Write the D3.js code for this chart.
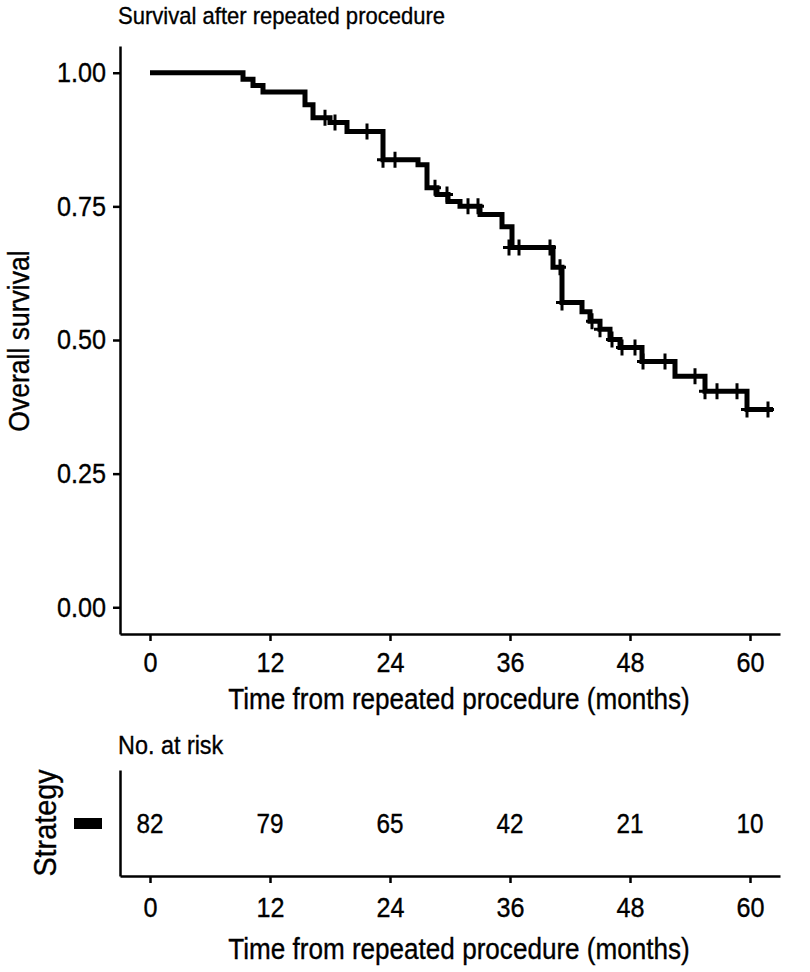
<!DOCTYPE html>
<html>
<head>
<meta charset="utf-8">
<script src="https://cdn.jsdelivr.net/npm/d3@7"></script>
<style>
  body { margin: 0; background: #fff; }
  text { font-family: "Liberation Sans", Arial, sans-serif; fill: #000; stroke: #000; stroke-width: 0.35px; }
  .axis path, .axis line { stroke: #000; stroke-width: 2.5px; }
  .axis text { font-size: 28px; fill: #000; }
</style>
</head>
<body>
<div id="chart-area"></div>
<script>
  // Kaplan-Meier steps
  var eventTimes = [0, 9.3, 10.3, 11.3, 15.5, 16.3, 18.0, 19.7, 23.3, 26.8, 27.7, 28.7, 29.8, 31.0, 33.0,
                    35.2, 36.2, 40.3, 41.2, 43.2, 44.0, 45.0, 46.0, 47.0, 49.2, 52.5, 55.5, 59.7, 62.3];
  var eventSurv  = [1.0, 0.988, 0.976, 0.964, 0.940, 0.916, 0.907, 0.890, 0.837, 0.828, 0.785, 0.772, 0.759, 0.750, 0.735,
                    0.712, 0.673, 0.636, 0.570, 0.553, 0.535, 0.520, 0.501, 0.486, 0.460, 0.432, 0.404, 0.370, 0.370];
  // censored observations
  var censorTimes = [17.5, 18.5, 21.7, 23.3, 24.5, 28.5, 29.7, 31.8, 32.8, 35.9, 36.9, 40.0, 41.0, 41.2,
                     44.2, 45.0, 46.2, 47.2, 48.5, 49.3, 51.5, 54.5, 55.5, 56.7, 58.7, 59.7, 61.8];
  var censorSurv  = [0.916, 0.907, 0.890, 0.837, 0.837, 0.785, 0.772, 0.750, 0.750, 0.673, 0.673, 0.673, 0.636, 0.570,
                     0.535, 0.520, 0.501, 0.486, 0.486, 0.460, 0.460, 0.432, 0.404, 0.404, 0.404, 0.370, 0.370];
  // number at risk table
  var riskTimes = [0, 12, 24, 36, 48, 60];
  var riskCounts = [82, 79, 65, 42, 21, 10];
  var xTicks = [0, 12, 24, 36, 48, 60];
  var yTicks = [0, 0.25, 0.5, 0.75, 1.0];

  // the text in the picture is a bit narrow, squeeze it horizontally
  var SQ = 0.9;

  var svg = d3.select('#chart-area')
    .append('svg')
    .attr('width', 810)
    .attr('height', 972);

  function label(tx, ty, rot, size, anchor, str) {
    return svg.append('text')
      .attr('transform', 'translate(' + tx + ',' + ty + ') rotate(' + rot + ') scale(' + SQ + ',1)')
      .attr('font-size', size + 'px')
      .attr('text-anchor', anchor)
      .text(str);
  }

  // Scales
  var x = d3.scaleLinear().domain([-3, 63]).range([120, 780]);
  var y = d3.scaleLinear().domain([-0.05, 1.05]).range([634, 46]);

  // Title
  label(118, 24, 0, 24.5, 'start', 'Survival after repeated procedure');

  // Axes
  svg.append('g')
    .attr('class', 'axis')
    .attr('transform', 'translate(0,634)')
    .call(d3.axisBottom(x).tickValues(xTicks).tickSize(7).tickPadding(11).tickSizeOuter(0))
    .call(function(g) { g.selectAll('text').attr('dy', '0.71em').attr('transform', 'scale(' + SQ + ',1)'); });
  svg.append('g')
    .attr('class', 'axis')
    .attr('transform', 'translate(120,0)')
    .call(d3.axisLeft(y).tickValues(yTicks).tickSize(7).tickPadding(6).tickSizeOuter(0)
      .tickFormat(d3.format('.2f')))
    .call(function(g) {
      g.selectAll('text').attr('x', -14 / SQ).attr('transform', 'scale(' + SQ + ',1)');
    });

  label(459, 709, 0, 29, 'middle', 'Time from repeated procedure (months)');
  label(29, 341, -90, 29.5, 'middle', 'Overall survival');

  // Survival curve
  var km = eventTimes.map(function(t, i) { return {t: t, s: eventSurv[i]}; });
  var line = d3.line()
    .curve(d3.curveStepAfter)
    .x(function(d) { return x(d.t); })
    .y(function(d) { return y(d.s); });
  svg.append('path')
    .attr('fill', 'none')
    .attr('stroke', '#000')
    .attr('stroke-width', 5)
    .attr('d', line(km));

  // Censor marks
  var cens = censorTimes.map(function(t, i) { return {t: t, s: censorSurv[i]}; });
  svg.append('g').selectAll('path')
    .data(cens)
    .enter().append('path')
    .attr('stroke', '#000')
    .attr('stroke-width', 3)
    .attr('d', function(d) {
      var cx = x(d.t), cy = y(d.s);
      return 'M' + (cx - 6) + ',' + cy + 'H' + (cx + 6) + 'M' + cx + ',' + (cy - 8) + 'V' + (cy + 8);
    });

  /******** Risk table ********/
  label(118, 754, 0, 26, 'start', 'No. at risk');

  var ry = d3.scaleLinear().domain([0, 1]).range([876, 770]);
  svg.append('g')
    .attr('class', 'axis')
    .attr('transform', 'translate(0,876)')
    .call(d3.axisBottom(x).tickValues(xTicks).tickSize(7).tickPadding(14).tickSizeOuter(0))
    .call(function(g) { g.selectAll('text').attr('dy', '0.71em').attr('transform', 'scale(' + SQ + ',1)'); });
  svg.append('g')
    .attr('class', 'axis')
    .attr('transform', 'translate(120,0)')
    .call(d3.axisLeft(ry).tickValues([]).tickSizeOuter(0));

  svg.append('g').selectAll('text')
    .data(riskCounts)
    .enter().append('text')
    .attr('transform', function(d, i) { return 'translate(' + x(riskTimes[i]) + ',' + ry(0.5) + ') scale(' + SQ + ',1)'; })
    .attr('dy', '0.36em')
    .attr('font-size', '27px')
    .attr('text-anchor', 'middle')
    .text(function(d) { return d; });

  // strata legend key
  svg.append('rect')
    .attr('x', 74)
    .attr('y', ry(0.5) - 5)
    .attr('width', 28)
    .attr('height', 11)
    .attr('fill', '#000');
  label(56, ry(0.5), -90, 32, 'middle', 'Strategy');

  label(459, 959, 0, 29, 'middle', 'Time from repeated procedure (months)');
</script>
</body>
</html>
